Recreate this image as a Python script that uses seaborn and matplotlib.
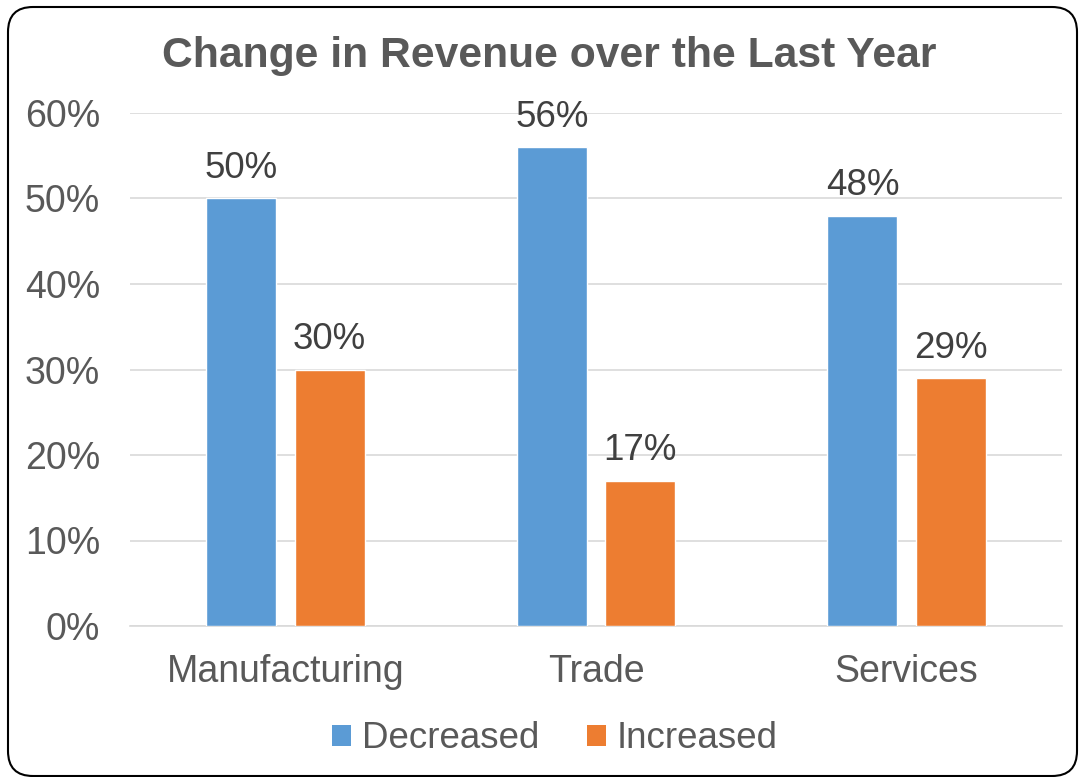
import matplotlib
matplotlib.use("Agg")
import matplotlib.pyplot as plt
from matplotlib.patches import FancyBboxPatch, Patch
from matplotlib.transforms import IdentityTransform
from matplotlib.ticker import FuncFormatter
import seaborn as sns
import pandas as pd

sectors = ["Manufacturing", "Trade", "Services"]
decreased = [50, 56, 48]
increased = [30, 17, 29]
series_names = ["Decreased", "Increased"]
colors = ["#5B9BD5", "#ED7D31"]
y_ticks = [0, 10, 20, 30, 40, 50, 60]

df = pd.DataFrame({
    "Sector": sectors * 2,
    "Change": [series_names[0]] * 3 + [series_names[1]] * 3,
    "Share": decreased + increased,
})

sns.set_theme(style="white")
plt.rcParams["font.family"] = ["Liberation Sans", "DejaVu Sans"]

TEXT = "#595959"
fig = plt.figure(figsize=(10.81, 7.77), dpi=100)
ax = fig.add_axes([130 / 1081, 1 - 626 / 777, 932 / 1081, (626 - 113) / 777])

sns.barplot(data=df, x="Sector", y="Share", hue="Change", order=sectors,
            hue_order=series_names, palette=colors, width=0.57, gap=0.21,
            saturation=1, errorbar=None, legend=False, ax=ax, zorder=3)

for cont in ax.containers:
    ax.bar_label(cont, fmt="{:.0f}%", padding=9, fontsize=26.5, color="#404040")

ax.set_ylim(0, 60)
ax.set_xlim(-0.5, 2.5)
ax.set_yticks(y_ticks)
ax.yaxis.set_major_formatter(FuncFormatter(lambda v, p: f"{v:.0f}%"))
ax.grid(axis="y", color="#d9d9d9", linewidth=1.2, zorder=0)
ax.set_axisbelow(True)
for s in ["top", "right", "left"]:
    ax.spines[s].set_visible(False)
ax.spines["bottom"].set_color("#d9d9d9")
ax.spines["bottom"].set_linewidth(1.2)
ax.tick_params(axis="y", labelsize=27, labelcolor=TEXT, length=0, pad=21.5)
ax.tick_params(axis="x", labelsize=27, labelcolor=TEXT, length=0, pad=20)
ax.set_xlabel("")
ax.set_ylabel("")

fig.text(549 / 1081, 1 - 56 / 777, "Change in Revenue over the Last Year",
         ha="center", va="center", fontsize=30.7, fontweight="bold", color=TEXT)

handles = [Patch(facecolor=c, edgecolor="none") for c in colors]
fig.legend(handles, series_names, loc="center", bbox_to_anchor=(555 / 1081, 1 - 739 / 777),
           ncol=2, frameon=False, fontsize=26.5, labelcolor=TEXT,
           handlelength=0.5, handleheight=0.5, handletextpad=0.3, columnspacing=1.3)

border = FancyBboxPatch((8, 1), 1069, 769, boxstyle="round,pad=0,rounding_size=25",
                        transform=IdentityTransform(), facecolor="none",
                        edgecolor="black", linewidth=1.5, figure=fig)
fig.patches.append(border)

fig.savefig("out.png", dpi=100)
